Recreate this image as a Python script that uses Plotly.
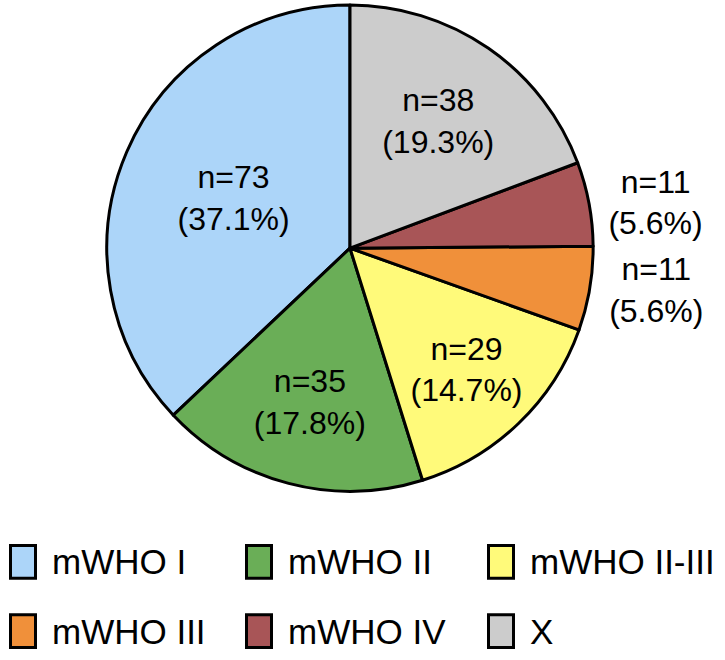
import plotly.graph_objects as go

labels = ["mWHO I", "mWHO II", "mWHO II-III", "mWHO III", "mWHO IV", "X"]
counts = [73, 35, 29, 11, 11, 38]
percents = [37.1, 17.8, 14.7, 5.6, 5.6, 19.3]
colors = ["#acd5f9", "#6aae57", "#fffa7a", "#f0903a", "#a85557", "#cccccc"]
text_positions = ["inside", "inside", "inside", "outside", "outside", "inside"]

texts = [f"n={c}<br>({p}%)" for c, p in zip(counts, percents)]
FONT = "Liberation Sans, Arial, sans-serif"
W, H = 725, 660

# plotly's counterclockwise layout puts the first slice to the right of 12 o'clock;
# rotate back so the first slice starts at 12 o'clock and runs counterclockwise.
first_angle = 360.0 * counts[0] / sum(counts)

fig = go.Figure(go.Pie(
    labels=labels,
    values=counts,
    text=texts,
    textinfo="text",
    textposition=text_positions,
    insidetextorientation="horizontal",
    sort=False,
    direction="counterclockwise",
    rotation=-first_angle,
    marker=dict(colors=colors, line=dict(color="black", width=3)),
    textfont=dict(family=FONT, size=32, color="black"),
    domain=dict(x=[105/W, 595/W], y=[170/H, 1.0]),
    hoverinfo="label+value+percent",
    showlegend=False,
))

# Custom legend (tall swatches) built from the label/colour lists
col_x = [9, 245, 487]
row_y = [561, 631]
shapes, annots = [], []
for i, (lab, col) in enumerate(zip(labels, colors)):
    r, c = divmod(i, 3)
    x0 = col_x[c]
    yc = row_y[r]
    shapes.append(dict(
        type="rect", xref="paper", yref="paper",
        x0=(x0 + 1.5) / W, x1=(x0 + 26.5) / W,
        y0=1 - (yc + 16.5) / H, y1=1 - (yc - 16.5) / H,
        fillcolor=col, line=dict(color="black", width=3),
    ))
    annots.append(dict(
        text=lab, xref="paper", yref="paper",
        x=(x0 + 41) / W, y=1 - yc / H, xanchor="left", yanchor="middle",
        showarrow=False, font=dict(family=FONT, size=35, color="black"),
    ))

fig.update_layout(
    width=W, height=H,
    margin=dict(l=0, r=0, t=0, b=0),
    paper_bgcolor="white",
    shapes=shapes,
    annotations=annots,
)

fig.write_html("out.html", config={"displayModeBar": False},
               post_script="document.body.style.margin='0';")
